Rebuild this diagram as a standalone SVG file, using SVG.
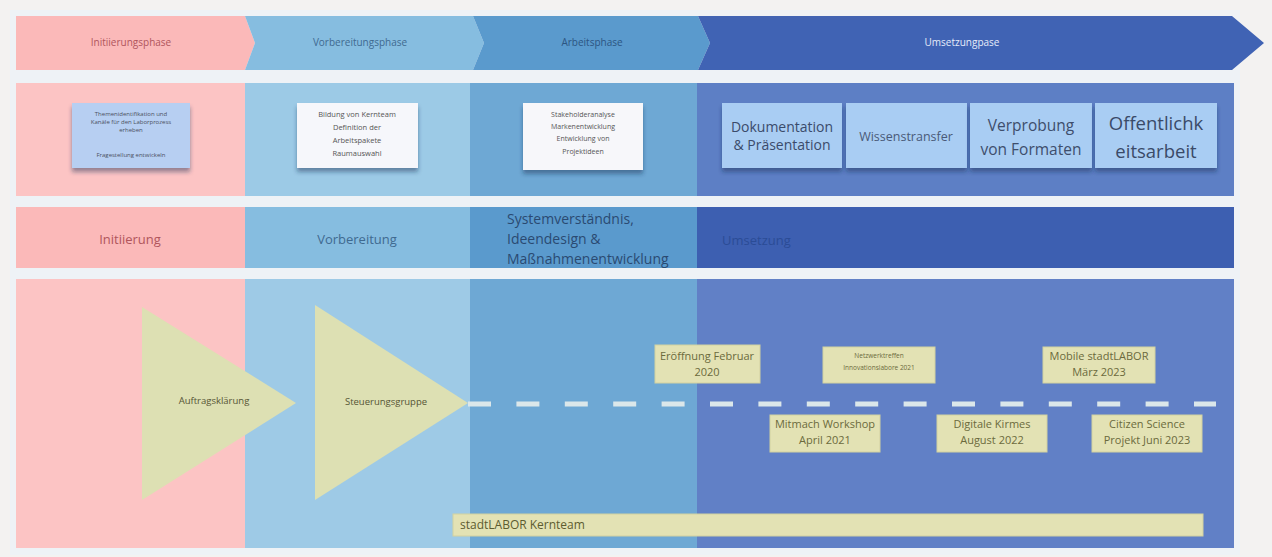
<svg xmlns="http://www.w3.org/2000/svg" width="1272" height="557" viewBox="0 0 1272 557">
<defs>
<style>
text{font-family:"Open Sans","Noto Sans","Liberation Sans",sans-serif}
.c{text-anchor:middle}
.sticky{filter:url(#sh)}
.ev{fill:#e3e2b4;stroke:#d2d1a0;stroke-width:1}
.evt{font-size:11px;fill:#6b6a3c}
.hdr{font-size:10px}
.r3{font-size:13px}
</style>
<filter id="sh" x="-10%" y="-10%" width="120%" height="130%">
<feDropShadow dx="0" dy="4" stdDeviation="2" flood-color="#1c2a55" flood-opacity="0.45"/>
</filter>
</defs>
<rect width="1272" height="557" fill="#f3f2f1"/>
<rect x="10" y="10" width="1230" height="545" fill="#eef2f6"/>

<g id="header">
<polygon points="16,16 245,16 255,43 245,70 16,70" fill="#fbb9b9"/>
<polygon points="245,16 473,16 484,43 473,70 245,70 255,43" fill="#86bde0"/>
<polygon points="473,16 698,16 710,43 698,70 473,70 484,43" fill="#5a9acd"/>
<polygon points="698,16 1232,16 1264,43 1232,70 698,70 710,43" fill="#4063b4"/>
<text class="hdr c" x="131" y="46" fill="#b0555c">Initiierungsphase</text>
<text class="hdr c" x="360" y="46" fill="#3f6a90">Vorbereitungsphase</text>
<text class="hdr c" x="592" y="46" fill="#2c5582">Arbeitsphase</text>
<text class="hdr c" x="962" y="46" fill="#e6ecfa">Umsetzungpase</text>
</g>

<g id="row2">
<rect x="16" y="83" width="229" height="113" fill="#fcc4c4"/>
<rect x="245" y="83" width="225" height="113" fill="#9ccae6"/>
<rect x="470" y="83" width="227" height="113" fill="#6ea8d4"/>
<rect x="697" y="83" width="537" height="113" fill="#5d7fc5"/>
</g>

<g id="sticky1">
<rect class="sticky" x="72" y="103" width="118" height="65" fill="#b7cff2"/>
<g font-size="6" fill="#4a4f60" class="c">
<text class="c" x="131" y="116">Themenidentifikation und</text>
<text class="c" x="131" y="124">Kanäle für den Laborprozess</text>
<text class="c" x="131" y="132">erheben</text>
<text class="c" x="131" y="157">Fragestellung entwickeln</text>
</g>
</g>
<g id="sticky2">
<rect class="sticky" x="297" y="103" width="121" height="65" fill="#f6f7fb"/>
<g font-size="7.5" fill="#555">
<text class="c" x="357" y="117">Bildung von Kernteam</text>
<text class="c" x="357" y="130">Definition der</text>
<text class="c" x="357" y="143">Arbeitspakete</text>
<text class="c" x="357" y="156">Raumauswahl</text>
</g>
</g>
<g id="sticky3">
<rect class="sticky" x="523" y="103" width="120" height="67" fill="#f7f7fa"/>
<g font-size="7" fill="#555">
<text class="c" x="583" y="117">Stakeholderanalyse</text>
<text class="c" x="583" y="129">Markenentwicklung</text>
<text class="c" x="583" y="141">Entwicklung von</text>
<text class="c" x="583" y="154">Projektideen</text>
</g>
</g>
<g id="doku">
<rect class="sticky" x="722" y="103" width="120" height="65" fill="#a9cdf3"/>
<text class="c" x="782" y="132" font-size="14" fill="#3b4b6b">Dokumentation</text>
<text class="c" x="782" y="150" font-size="14" fill="#3b4b6b">&amp; Präsentation</text>
</g>
<g id="wissen">
<rect class="sticky" x="846" y="103" width="121" height="65" fill="#a9cdf3"/>
<text class="c" x="906" y="141" font-size="12.5" fill="#4a5a78">Wissenstransfer</text>
</g>
<g id="verprobung">
<rect class="sticky" x="970" y="103" width="122" height="65" fill="#a9cdf3"/>
<text class="c" x="1031" y="131" font-size="15.5" fill="#3e4e6c">Verprobung</text>
<text class="c" x="1031" y="155" font-size="15.5" fill="#3e4e6c">von Formaten</text>
</g>
<g id="oeffentlich">
<rect class="sticky" x="1095" y="103" width="122" height="65" fill="#a9cdf3"/>
<text class="c" x="1156" y="130" font-size="18.5" fill="#3a4a68">Offentlichk</text>
<text class="c" x="1156" y="158" font-size="18.5" fill="#3a4a68">eitsarbeit</text>
</g>

<g id="row3">
<rect x="16" y="207" width="229" height="61" fill="#fbb9b9"/>
<rect x="245" y="207" width="225" height="61" fill="#86bde0"/>
<rect x="470" y="207" width="227" height="61" fill="#5a9acd"/>
<rect x="697" y="207" width="537" height="61" fill="#3d5fb1"/>
<text class="r3 c" x="130" y="244" fill="#b0555c">Initiierung</text>
<text class="r3 c" x="357" y="244" fill="#3f6a90">Vorbereitung</text>
<text x="507" y="224" font-size="14" fill="#2a4a72">Systemverständnis,</text>
<text x="507" y="244" font-size="14" fill="#2a4a72">Ideendesign &amp;</text>
<text x="507" y="264" font-size="14" fill="#2a4a72">Maßnahmenentwicklung</text>
<text x="722" y="245" font-size="13" fill="#2b4c96">Umsetzung</text>
</g>

<g id="row4">
<rect x="16" y="279" width="229" height="269" fill="#fcc4c4"/>
<rect x="245" y="279" width="225" height="269" fill="#9ecae6"/>
<rect x="470" y="279" width="227" height="269" fill="#6ea8d4"/>
<rect x="697" y="279" width="537" height="269" fill="#6180c6"/>
</g>

<g id="auftrag">
<polygon points="142,307 296,403 142,500" fill="#dde0b3"/>
<text class="c" x="214" y="404" font-size="9.5" fill="#555535">Auftragsklärung</text>
</g>
<g id="steuerung">
<polygon points="315,305 468,403 315,500" fill="#dde0b3"/>
<text class="c" x="386" y="405" font-size="9.5" fill="#555535">Steuerungsgruppe</text>
</g>

<g id="connectors">
<line x1="468" y1="404" x2="1216" y2="404" stroke="#dbe7ea" stroke-width="5" stroke-dasharray="23 25.4"/>
</g>

<g id="eroeffnung">
<rect class="ev" x="655" y="345" width="105" height="38"/>
<text class="evt c" x="707" y="360">Eröffnung Februar</text>
<text class="evt c" x="707" y="376">2020</text>
</g>
<g id="netzwerk">
<rect class="ev" x="823" y="347" width="112" height="36"/>
<text class="c" x="879" y="358" font-size="6.5" fill="#6b6a3c">Netzwerktreffen</text>
<text class="c" x="879" y="370" font-size="6.5" fill="#6b6a3c">Innovationslabore 2021</text>
</g>
<g id="mobile">
<rect class="ev" x="1043" y="347" width="112" height="36"/>
<text class="evt c" x="1099" y="360">Mobile stadtLABOR</text>
<text class="evt c" x="1099" y="376">März 2023</text>
</g>
<g id="mitmach">
<rect class="ev" x="770" y="415" width="110" height="37"/>
<text class="evt c" x="825" y="428">Mitmach Workshop</text>
<text class="evt c" x="825" y="444">April 2021</text>
</g>
<g id="kirmes">
<rect class="ev" x="937" y="415" width="110" height="37"/>
<text class="evt c" x="992" y="428">Digitale Kirmes</text>
<text class="evt c" x="992" y="444">August 2022</text>
</g>
<g id="citizen">
<rect class="ev" x="1092" y="415" width="110" height="37"/>
<text class="evt c" x="1147" y="428">Citizen Science</text>
<text class="evt c" x="1147" y="444">Projekt Juni 2023</text>
</g>
<g id="kernteam">
<rect class="ev" x="453" y="514" width="750" height="22"/>
<text x="460" y="529" font-size="12" fill="#5d5c30">stadtLABOR Kernteam</text>
</g>
</svg>
